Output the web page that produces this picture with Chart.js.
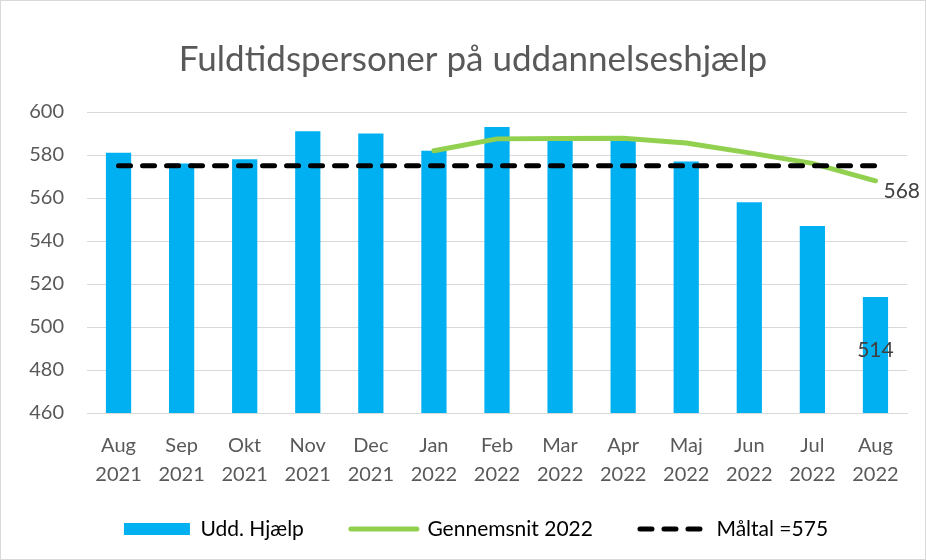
<!DOCTYPE html>
<html>
<head>
<meta charset="utf-8">
<script src="https://cdn.jsdelivr.net/npm/chart.js@4.4.0/dist/chart.umd.min.js"></script>
<style>
  html, body { margin: 0; padding: 0; background: #fff; }
  #wrap { position: absolute; left: 0; top: 0; width: 924px; height: 558px; border: 1px solid #d9d9d9; }
  canvas { display: block; }
</style>
</head>
<body>
<div id="wrap"><canvas id="c" width="924" height="558"></canvas></div>
<script>
const months = ['Aug','Sep','Okt','Nov','Dec','Jan','Feb','Mar','Apr','Maj','Jun','Jul','Aug'];
const years = ['2021','2021','2021','2021','2021','2022','2022','2022','2022','2022','2022','2022','2022'];
const uddHjaelp = [581, 576, 578, 591, 590, 582, 593, 588, 588, 577, 558, 547, 514];
const gennemsnit2022 = [null, null, null, null, null, 582, 587.5, 587.7, 587.8, 585.6, 581, 576.1, 568];
const maaltal = [575, 575, 575, 575, 575, 575, 575, 575, 575, 575, 575, 575, 575];
const yTicks = [460, 480, 500, 520, 540, 560, 580, 600];
const seriesNames = ['Udd. Hjælp', 'Gennemsnit 2022', 'Måltal =575'];
const titleText = 'Fuldtidspersoner på uddannelseshjælp';

const labels = months.map((m, i) => [m, years[i]]);
const FONT = 'Lato, "Open Sans", sans-serif';
const TXT = '#595959';

const dataLabels = {
  id: 'dataLabels',
  afterDatasetsDraw(chart) {
    const ctx = chart.ctx;
    ctx.save();
    ctx.font = '21px ' + FONT;
    ctx.fillStyle = '#404040';
    ctx.textBaseline = 'middle';
    const lm = chart.getDatasetMeta(1);
    const li = gennemsnit2022.length - 1;
    const lp = lm.data[li];
    ctx.textAlign = 'left';
    ctx.fillText(String(Math.round(gennemsnit2022[li])), lp.x + 8, lp.y + 10);
    const bm = chart.getDatasetMeta(0);
    const bi = uddHjaelp.length - 1;
    const bp = bm.data[bi];
    ctx.textAlign = 'center';
    ctx.fillText(String(uddHjaelp[bi]), bp.x, bp.y + 53);
    ctx.restore();
  }
};

const boxShift = {
  id: 'boxShift',
  afterLayout(chart) {
    const l = chart.legend;
    if (l) { l.left += 12; l.right += 12; l.top -= 27.5; l.bottom -= 27.5; }
    const t = chart.titleBlock;
    if (t) { t.left += 9; t.right += 9; }
  }
};

new Chart(document.getElementById('c'), {
  type: 'bar',
  data: {
    labels: labels,
    datasets: [
      {
        label: seriesNames[0],
        data: uddHjaelp,
        backgroundColor: '#00B0F0',
        borderWidth: 0,
        barPercentage: 0.4,
        categoryPercentage: 1.0,
        order: 3
      },
      {
        type: 'line',
        label: seriesNames[1],
        data: gennemsnit2022,
        borderColor: '#92D050',
        backgroundColor: '#92D050',
        borderWidth: 5,
        borderCapStyle: 'round',
        pointRadius: 0,
        tension: 0,
        order: 2
      },
      {
        type: 'line',
        label: seriesNames[2],
        data: maaltal,
        borderColor: '#000000',
        backgroundColor: '#000000',
        borderWidth: 5,
        borderDash: [12, 12],
        borderCapStyle: 'round',
        pointRadius: 0,
        order: 1
      }
    ]
  },
  options: {
    responsive: false,
    animation: false,
    layout: { padding: { left: 20, right: 18, top: 0, bottom: -18 } },
    scales: {
      x: {
        grid: { display: false },
        border: { display: true, color: '#d9d9d9', width: 1 },
        ticks: { color: TXT, font: { family: FONT, size: 20, lineHeight: 1.45 }, padding: 10, maxRotation: 0, autoSkip: false }
      },
      y: {
        min: 460, max: 600,
        afterBuildTicks(scale) { scale.ticks = yTicks.map(v => ({ value: v })); },
        afterFit(scale) { scale.width = 66; },
        grid: { color: '#d9d9d9', lineWidth: 1, drawTicks: false },
        border: { display: false },
        ticks: { color: TXT, font: { family: FONT, size: 20 }, padding: 23 }
      }
    },
    plugins: {
      tooltip: { enabled: false },
      title: {
        display: true,
        text: titleText,
        color: TXT,
        font: { family: FONT, size: 35, weight: 'normal' },
        padding: { top: 38, bottom: 31 }
      },
      legend: {
        position: 'bottom',
        labels: {
          color: TXT,
          font: { family: FONT, size: 21 },
          usePointStyle: true,
          boxWidth: 66,
          boxHeight: 12,
          pointStyleWidth: 66,
          padding: 47,
          generateLabels() {
            return [
              { text: seriesNames[0], pointStyle: 'rect', fillStyle: '#00B0F0', strokeStyle: '#00B0F0', lineWidth: 0, datasetIndex: 0 },
              { text: seriesNames[1], pointStyle: 'line', fillStyle: '#92D050', strokeStyle: '#92D050', lineWidth: 5, lineCap: 'round', datasetIndex: 1 },
              { text: seriesNames[2], pointStyle: 'line', fillStyle: '#000', strokeStyle: '#000', lineWidth: 5, lineCap: 'round', lineDash: [12, 12], datasetIndex: 2 }
            ];
          }
        }
      }
    }
  },
  plugins: [dataLabels, boxShift]
});
</script>
</body>
</html>
